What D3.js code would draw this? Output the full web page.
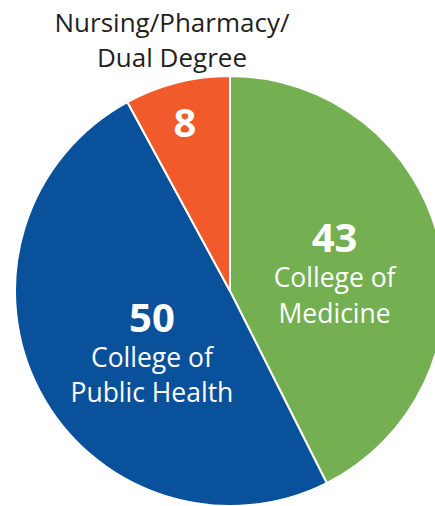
<!DOCTYPE html>
<html><head><meta charset="utf-8">
<script src="https://cdn.jsdelivr.net/npm/d3@7"></script>
<style>
html,body{margin:0;padding:0;background:#fff;}
svg{display:block;}
text{font-family:"Open Sans","Noto Sans",sans-serif;}
</style></head>
<body>
<svg id="chart" width="435" height="506"></svg>
<script>
const categories = ["College of Medicine", "College of Public Health", "Nursing/Pharmacy/Dual Degree"];
const values = [43, 50, 8];
const labelLines = [["College of", "Medicine"], ["College of", "Public Health"], []];
const outsideLabel = ["Nursing/Pharmacy/", "Dual Degree"];
const colors = ["#74AF52", "#0A519C", "#F15A2B"];

const svg = d3.select("#chart");
const cx = 230, cy = 291, r = 215;
const g = svg.append("g").attr("transform", `translate(${cx},${cy})`);

const pie = d3.pie().sort(null).value(d => d.v);
const data = pie(values.map((v, i) => ({v, i, name: categories[i]})));
const arc = d3.arc().innerRadius(0).outerRadius(r);

g.selectAll("path").data(data).join("path")
  .attr("d", arc)
  .attr("fill", d => colors[d.data.i])
  .attr("stroke", "#fff")
  .attr("stroke-width", 2);

// label placement: radius fraction and vertical offset for each slice
const labelRadius = [0.50, 0.41, 0.85];
const labelShift = [-14, 0, 23];
data.forEach((d, k) => {
  const la = d3.arc().innerRadius(r * labelRadius[k]).outerRadius(r * labelRadius[k]);
  const [x, y] = la.centroid(d);
  const t = g.append("text").attr("text-anchor", "middle").attr("fill", "#fff")
    .attr("transform", `translate(${x},${y + labelShift[k]})`);
  t.append("tspan").attr("x", 0).attr("y", 0)
    .attr("font-weight", 700).attr("font-size", 40).text(values[k]);
  labelLines[k].forEach((line, j) => {
    t.append("tspan").attr("x", 0).attr("y", 35 + j * 35.5)
      .attr("font-size", 26.5).text(line);
  });
});

// outside label for the small slice
const ot = svg.append("text").attr("text-anchor", "middle").attr("fill", "#231F20")
  .attr("font-size", 26);
outsideLabel.forEach((line, j) => {
  ot.append("tspan").attr("x", 172).attr("y", 32 + j * 35).text(line);
});
</script>
</body></html>
